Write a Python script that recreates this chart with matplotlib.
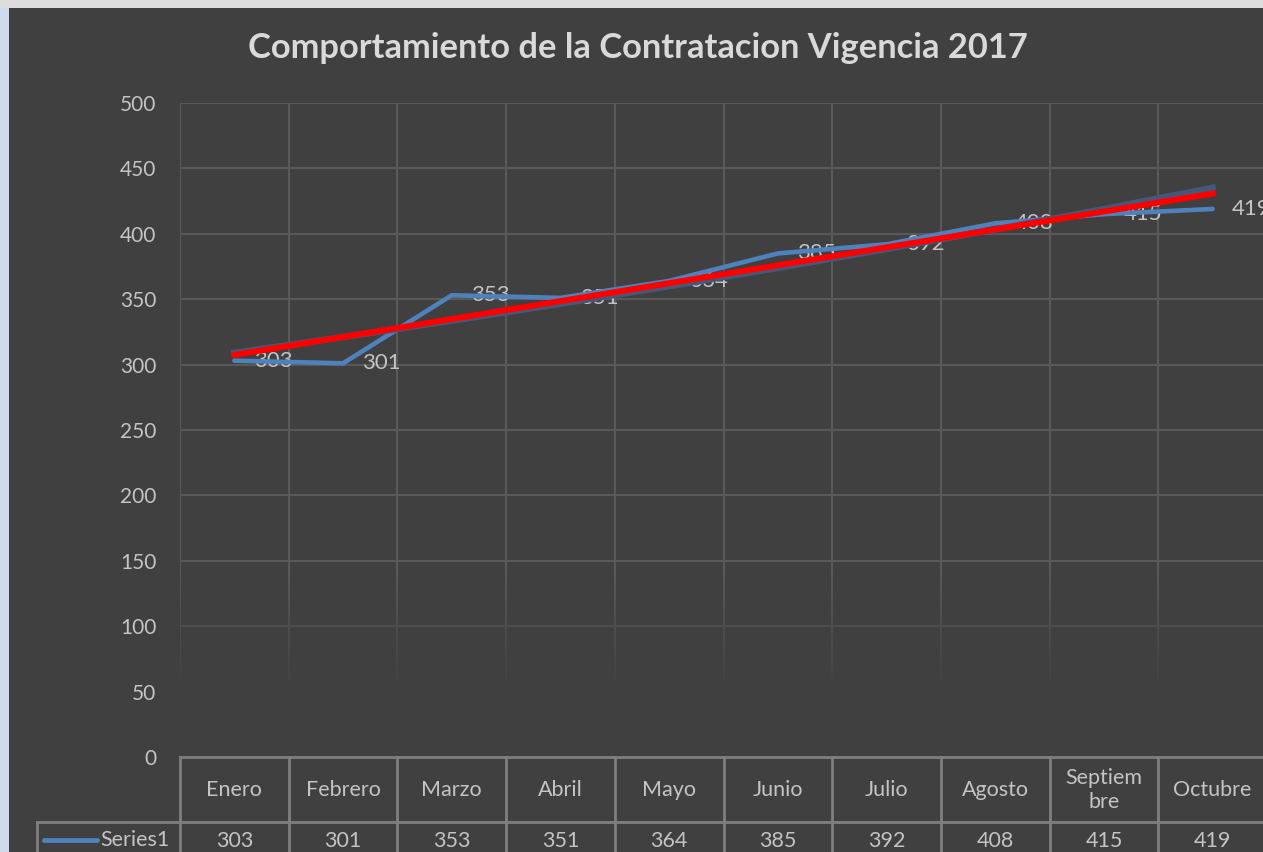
import numpy as np
import matplotlib.pyplot as plt
from matplotlib.patches import Rectangle

plt.rcParams['font.family'] = ['Lato', 'DejaVu Sans']

meses = ['Enero', 'Febrero', 'Marzo', 'Abril', 'Mayo', 'Junio',
         'Julio', 'Agosto', 'Septiem\nbre', 'Octubre']
valores = [303, 301, 353, 351, 364, 385, 392, 408, 415, 419]
nombre_serie = 'Series1'
titulo = 'Comportamiento de la Contratacion Vigencia 2017'

fondo = '#404040'
rejilla = '#595959'
borde_tabla = '#7f7f7f'
texto = '#c4c4c4'
azul = '#4f81bd'

W, H = 1263, 852
fig = plt.figure(figsize=(W / 100, H / 100), dpi=100)
fig.patch.set_facecolor('#dcdcdc')

# marco claro a la izquierda y arriba, area oscura del grafico
fig.add_artist(Rectangle((0, 0), 9 / W, 1 - 8 / H, transform=fig.transFigure,
                         facecolor='#cfdbea', edgecolor='none', zorder=0))
fig.add_artist(Rectangle((9 / W, 0), 1, 1 - 8 / H, transform=fig.transFigure,
                         facecolor=fondo, edgecolor='none', zorder=0))

x0, x1 = 180, 1267
y_top, y_bot = 103, 757
ax = fig.add_axes([x0 / W, (H - y_bot) / H, (x1 - x0) / W, (y_bot - y_top) / H])
ax.set_facecolor('none')

x = np.arange(len(valores))
y = np.array(valores, dtype=float)

ax.set_xlim(-0.5, len(valores) - 0.5)
ax.set_ylim(0, 500)
ax.set_yticks(np.arange(0, 501, 50))
ax.set_xticks([])
for s in ax.spines.values():
    s.set_visible(False)
ax.tick_params(axis='y', length=0, colors=texto, labelsize=15, pad=17)

# rejilla
for v in np.arange(50, 501, 50):
    ax.axhline(v, color=rejilla, lw=1.5, zorder=1)
for b in np.arange(-0.5, len(valores), 1.0):
    ax.axvline(b, color=rejilla, lw=1.5, zorder=1)

# desvanecido de la rejilla hacia abajo
grad = np.zeros((200, 1, 4))
rgb = np.array([0x40, 0x40, 0x40]) / 255
grad[:, 0, :3] = rgb
yy = np.linspace(0, 500, 200)
grad[:, 0, 3] = np.clip((140 - yy) / 90, 0, 0.97)
ax.imshow(grad, extent=[-0.5, len(valores) - 0.5, 0, 500], origin='lower',
          aspect='auto', zorder=2)

# etiquetas de datos (debajo de las lineas)
for xi, v in zip(x, valores):
    ax.annotate(str(v), (xi, v), xytext=(14, 0), textcoords='offset points',
                ha='left', va='center', color=texto, fontsize=16, zorder=3,
                annotation_clip=False)

ax.plot(x, y, color=azul, lw=3.3, solid_capstyle='round', zorder=4)

# linea de tendencia exponencial
be, ae = np.polyfit(x, np.log(y), 1)
ax.plot(x, np.exp(ae + be * x), color='#44597a', lw=4.5, zorder=5)

# linea de tendencia lineal
bl, al = np.polyfit(x, y, 1)
ax.plot(x, al + bl * x, color='#ff0000', lw=4.3, zorder=6)

# titulo
fig.text(0.505, 1 - 48 / H, titulo, ha='center', va='center',
         fontsize=24.8, fontweight='bold', color='#d9d9d9')

# tabla de datos
tr = ax.get_xaxis_transform()
px = 1 / (y_bot - y_top)
r1 = -65 * px
r2 = -130 * px
kw = dict(color=borde_tabla, lw=2, clip_on=False, transform=tr, zorder=7)
ax.plot([-0.5, len(valores) - 0.5], [0, 0], **kw)
ax.plot([-0.5 - (180 - 37) / 108.7, len(valores) - 0.5], [r1, r1], **kw)
ax.plot([-0.5 - (180 - 37) / 108.7] * 2, [r1, r2], **kw)
for b in np.arange(-0.5, len(valores), 1.0):
    ax.plot([b, b], [0, r2], **kw)

for xi, m, v in zip(x, meses, valores):
    ax.text(xi, r1 / 2, m, ha='center', va='center', color=texto,
            fontsize=15.5, linespacing=1.25, transform=tr, clip_on=False)
    ax.text(xi, r1 - 19 * px, str(v), ha='center', va='center', color=texto,
            fontsize=15.5, transform=tr, clip_on=False)

fig.add_artist(plt.Line2D([44 / W, 97 / W], [1 - 840 / H] * 2, color=azul,
                          lw=3.5, solid_capstyle='round'))
fig.text(100 / W, 1 - 840 / H, nombre_serie, ha='left', va='center',
         color=texto, fontsize=15.5)

fig.savefig('out.png', dpi=100, facecolor=fig.get_facecolor())
